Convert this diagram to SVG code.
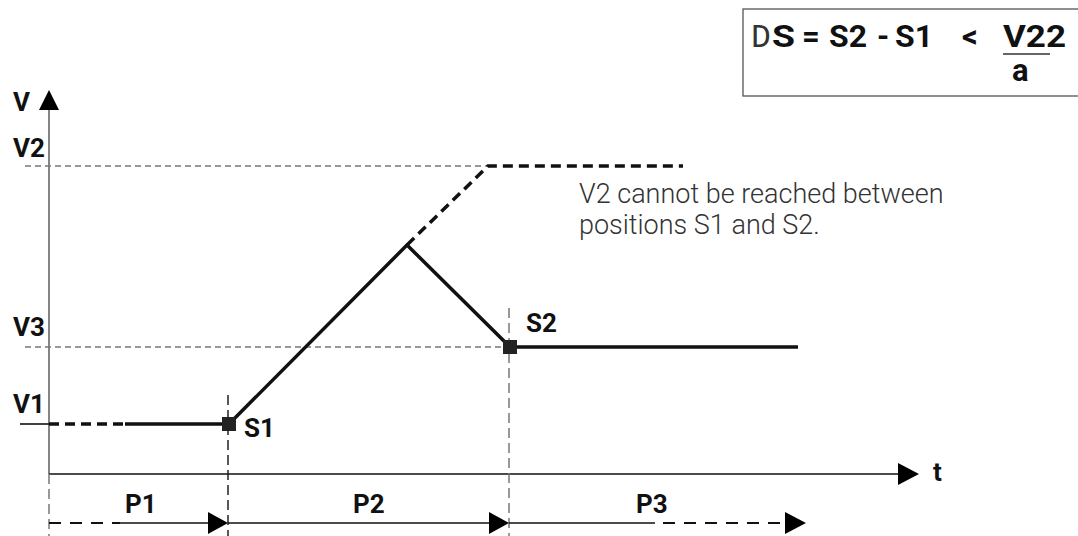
<svg xmlns="http://www.w3.org/2000/svg" width="1078" height="536" viewBox="0 0 1078 536">
<style>
.lbl{font-family:Roboto,"Liberation Sans",Arial,sans-serif;font-weight:bold;font-size:26px;fill:#111}
.frm{font-family:Roboto,"Liberation Sans",Arial,sans-serif;font-weight:bold;font-size:31px;fill:#111}
.mono{font-family:"Liberation Mono","Courier New",monospace;font-size:33px;fill:#333}
.note{font-family:Roboto,"Liberation Sans",Arial,sans-serif;font-weight:300;font-size:27px;fill:#333}
.grid{stroke:#777;stroke-width:1.3;stroke-dasharray:6 4;fill:none}
.vdash{stroke:#777;stroke-width:1.5;stroke-dasharray:10 5;fill:none}
.vdashk{stroke:#222;stroke-width:1.5;stroke-dasharray:10 5;fill:none}
.thick{stroke:#111;stroke-width:3.5;fill:none;stroke-linejoin:round}
.thickd{stroke:#111;stroke-width:3.5;fill:none;stroke-dasharray:10 6}
.thin{stroke:#111;stroke-width:1.6;fill:none}
.thind{stroke:#111;stroke-width:2;fill:none;stroke-dasharray:12 9}
.head{fill:#000}
.mark{fill:#222}
</style>
<g id="formula">
<rect x="743" y="9" width="340" height="87" fill="#fff" stroke="#555" stroke-width="1.3"/>
<text class="mono" x="751" y="47">D</text>
<text class="frm" x="772" y="47" textLength="23" lengthAdjust="spacingAndGlyphs">S</text>
<text class="frm" x="802" y="47">=</text>
<text class="frm" x="829" y="47" textLength="38" lengthAdjust="spacingAndGlyphs">S2</text>
<text class="frm" x="877" y="47">-</text>
<text class="frm" x="895" y="47" textLength="38" lengthAdjust="spacingAndGlyphs">S1</text>
<text class="frm" x="962" y="47">&lt;</text>
<text class="frm" x="1003" y="47" textLength="63" lengthAdjust="spacingAndGlyphs">V22</text>
<line x1="1003" y1="54" x2="1050" y2="54" stroke="#333" stroke-width="1.5"/>
<text class="frm" x="1012" y="81">a</text>
</g>
<g id="axes">
<line x1="49" y1="106" x2="49" y2="474" stroke="#666" stroke-width="1.6"/>
<polygon class="head" points="49,90 39,110 59,110"/>
<text class="lbl" x="13" y="111">V</text>
<line x1="49" y1="474" x2="899" y2="474" stroke="#111" stroke-width="1.6"/>
<polygon class="head" points="919,474 898,463 898,485"/>
<text class="lbl" x="933" y="481">t</text>
<line class="vdash" x1="49" y1="474" x2="49" y2="536"/>
</g>
<g id="levels">
<text class="lbl" x="13" y="157">V2</text>
<line class="grid" x1="25" y1="166" x2="488" y2="166"/>
<text class="lbl" x="13" y="336">V3</text>
<line class="grid" x1="25" y1="347" x2="510" y2="347"/>
<text class="lbl" x="13" y="413">V1</text>
<line class="thin" x1="20" y1="424" x2="49" y2="424"/>
</g>
<g id="connectors">
<line class="vdashk" x1="228" y1="395" x2="228" y2="536"/>
<line class="vdash" x1="509" y1="308" x2="509" y2="536"/>
<line class="thickd" x1="49" y1="424" x2="125" y2="424"/>
<polyline class="thick" points="125,424 229,424 407,245 510,347 798,347"/>
<polyline class="thickd" points="407,245 488,166 683,166"/>
<line class="thind" x1="49" y1="523" x2="120" y2="523"/>
<line class="thin" x1="120" y1="523" x2="210" y2="523" stroke-width="2"/>
<polygon class="head" points="228,523 208,512 208,534"/>
<line class="thin" x1="228" y1="523" x2="490" y2="523" stroke-width="2"/>
<polygon class="head" points="509,523 489,512 489,534"/>
<line class="thin" x1="509" y1="523" x2="655" y2="523" stroke-width="2"/>
<line class="thind" x1="663" y1="523" x2="785" y2="523"/>
<polygon class="head" points="806,523 785,512 785,534"/>
</g>
<g id="S1">
<rect class="mark" x="222" y="417" width="14" height="14"/>
<text class="lbl" x="244" y="437">S1</text>
</g>
<g id="S2">
<rect class="mark" x="503" y="340" width="14" height="14"/>
<text class="lbl" x="526" y="332">S2</text>
</g>
<g id="note">
<text class="note" x="579" y="203">V2 cannot be reached between</text>
<text class="note" x="579" y="234">positions S1 and S2.</text>
</g>
<g id="phases">
<text class="lbl" x="125" y="513">P1</text>
<text class="lbl" x="353" y="513">P2</text>
<text class="lbl" x="636" y="513">P3</text>
</g>
</svg>
